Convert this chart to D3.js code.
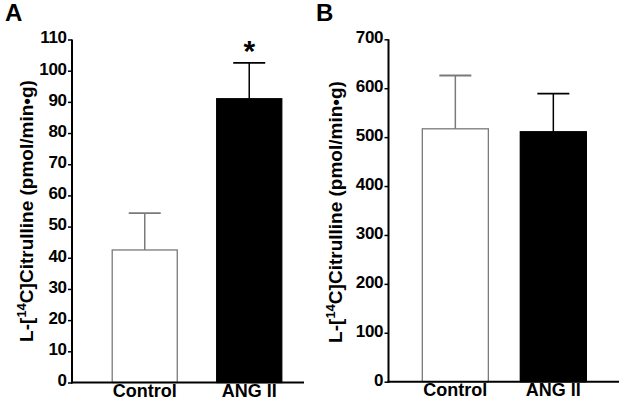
<!DOCTYPE html>
<html><head><meta charset="utf-8">
<script src="https://cdn.jsdelivr.net/npm/d3@7"></script>
<style>
html,body{margin:0;padding:0;background:#fff;}
svg{display:block;font-family:Arial,"Liberation Sans",Helvetica,sans-serif;font-weight:bold;}
</style></head>
<body><svg id="c" width="620" height="400"></svg>
<script>
const categories = ["Control", "ANG II"];
const valuesA = [42.5, 91];
const errorsA = [11.8, 11.5];
const valuesB = [517, 511];
const errorsB = [109, 78];
const ticksA = [0,10,20,30,40,50,60,70,80,90,100,110];
const ticksB = [0,100,200,300,400,500,600,700];
const significance = ["", "*"];
const panelLabels = ["A", "B"];

const svg = d3.select("#c");

function panel(cfg){
  const g = svg.append("g");
  const y = d3.scaleLinear().domain([0, cfg.max]).range([cfg.y0, cfg.y1]);
  const step = cfg.step, pi = cfg.pi, po = cfg.po;
  const x = d3.scaleBand().domain(categories)
    .range([cfg.ax, cfg.ax + step*(categories.length - pi + 2*po)])
    .paddingInner(pi).paddingOuter(po);
  const fills = ["#fff", "#000"];
  const strokes = ["#7a7a7a", "#000"];

  g.selectAll("rect.bar").data(cfg.values).enter().append("rect")
    .attr("x", (d,i)=>x(categories[i])+0.5)
    .attr("y", d=>y(d))
    .attr("width", x.bandwidth()-1)
    .attr("height", d=>y(0)-y(d))
    .attr("fill", (d,i)=>fills[i])
    .attr("stroke", (d,i)=>strokes[i])
    .attr("stroke-width", 1.3);

  cfg.values.forEach((v,i)=>{
    const cx = x(categories[i]) + x.bandwidth()/2;
    const top = y(v + cfg.errors[i]);
    g.append("line").attr("x1",cx).attr("x2",cx).attr("y1",y(v)).attr("y2",top)
      .attr("stroke",strokes[i]).attr("stroke-width",1.5);
    g.append("line").attr("x1",cx-16).attr("x2",cx+16).attr("y1",top).attr("y2",top)
      .attr("stroke",strokes[i]).attr("stroke-width",1.8);
    if (cfg.sig && cfg.sig[i]) {
      g.append("text").attr("x",cx).attr("y",top-2).attr("text-anchor","middle")
        .attr("font-size",30).attr("fill","#000").text(cfg.sig[i]);
    }
  });

  const ya = d3.axisLeft(y).tickValues(cfg.ticks).tickSize(4).tickPadding(1.5).tickFormat(d3.format("d"));
  const yg = g.append("g").attr("transform",`translate(${cfg.ax},0)`).call(ya);
  yg.select(".domain").remove();
  yg.selectAll(".tick line").attr("stroke","#000").attr("stroke-width",1.5);
  yg.selectAll(".tick text").attr("font-size",17).attr("font-weight","bold")
    .attr("fill","#000").attr("font-family","Arial,'Liberation Sans',sans-serif")
    .attr("dy","0.2em").attr("letter-spacing","-0.4");
  g.append("line").attr("x1",cfg.ax).attr("x2",cfg.ax).attr("y1",y(cfg.max)).attr("y2",y(0)+1)
    .attr("stroke","#000").attr("stroke-width",2);

  g.append("line").attr("x1",cfg.ax-1).attr("x2",cfg.axEnd).attr("y1",y(0)).attr("y2",y(0))
    .attr("stroke","#000").attr("stroke-width",2);
  g.selectAll("text.xl").data(categories).enter().append("text")
    .attr("x",d=>x(d)+x.bandwidth()/2).attr("y",y(0)+14)
    .attr("text-anchor","middle").attr("font-size",18).attr("fill","#000").text(d=>d);

  const t = g.append("text")
    .attr("transform",`translate(${cfg.titleX},${cfg.titleY}) rotate(-90)`)
    .attr("text-anchor","middle").attr("font-size",19).attr("fill","#000");
  t.append("tspan").text("L-[");
  t.append("tspan").attr("font-size",13).attr("dy","-0.55em").text("14");
  t.append("tspan").attr("dy","0.37em").text("C]Citrulline (pmol/min\u2022g)");

  g.append("text").attr("x",cfg.letterX).attr("y",21).attr("font-size",24)
    .attr("fill","#000").text(cfg.letter);
}

panel({max:110, y0:382.5, y1:39.5, ax:72, axEnd:304, step:104.5, pi:0.368, po:0.38,
  values:valuesA, errors:errorsA, ticks:ticksA, sig:significance,
  titleX:33, titleY:211, letterX:5, letter:panelLabels[0]});
panel({max:700, y0:381.7, y1:39.3, ax:388.5, axEnd:619, step:98, pi:0.316, po:0.34,
  values:valuesB, errors:errorsB, ticks:ticksB, sig:null,
  titleX:342, titleY:212, letterX:316, letter:panelLabels[1]});
</script></body></html>
